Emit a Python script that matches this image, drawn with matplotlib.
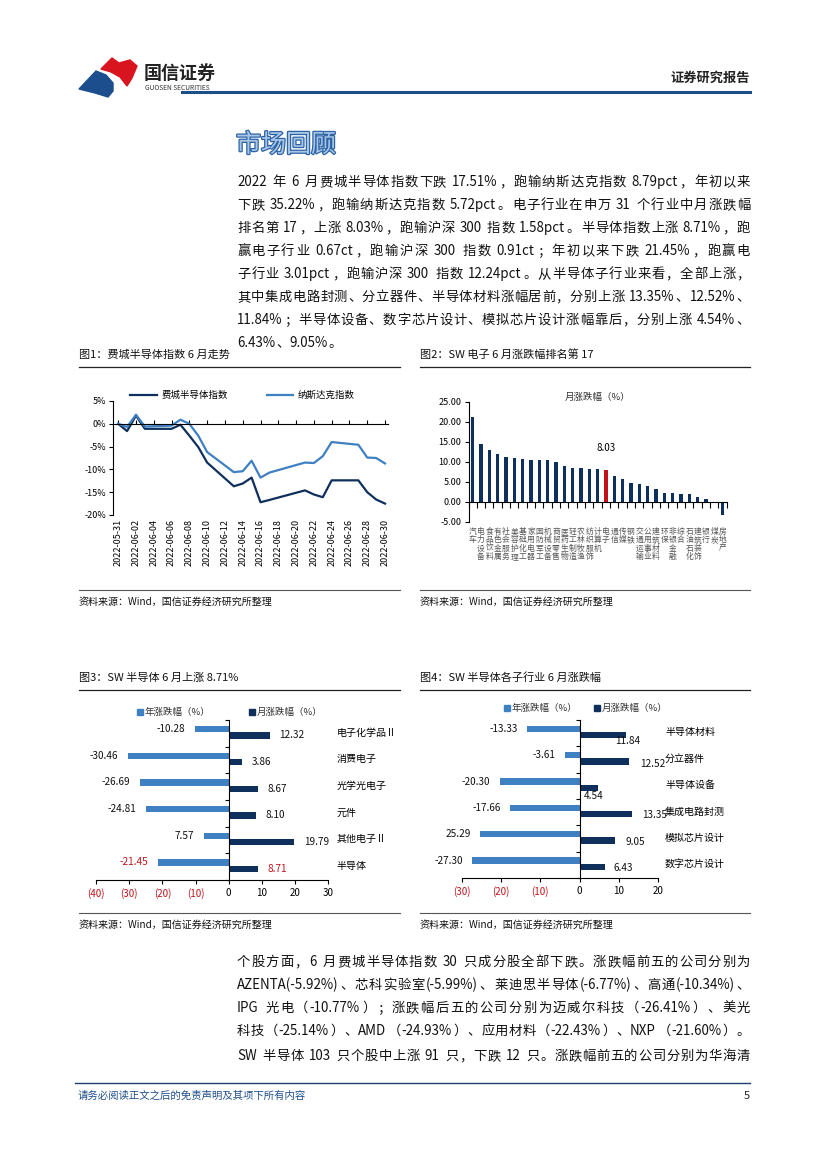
import re
import matplotlib
matplotlib.use('Agg')
import matplotlib.pyplot as plt
import matplotlib.dates as mdates
import matplotlib.patheffects as pe
from matplotlib.transforms import Affine2D, blended_transform_factory
from matplotlib.lines import Line2D
from matplotlib.patches import Polygon
from matplotlib.font_manager import FontProperties
import pandas as pd
import numpy as np

# -------------------------
# DATA
# -------------------------
# fig 1 : SOX vs Nasdaq, June 2022 (%)
dates1 = ['2022-05-31', '2022-06-01', '2022-06-02', '2022-06-03', '2022-06-06',
          '2022-06-07', '2022-06-08', '2022-06-09', '2022-06-10', '2022-06-13',
          '2022-06-14', '2022-06-15', '2022-06-16', '2022-06-17', '2022-06-21',
          '2022-06-22', '2022-06-23', '2022-06-24', '2022-06-27', '2022-06-28',
          '2022-06-29', '2022-06-30']
sox = [0, -1.6, 1.8, -1.1, -1.1, -0.2, -2.6, -5.1, -8.5, -13.7, -13.1, -11.8,
       -17.2, -16.7, -14.6, -15.5, -16.1, -12.4, -12.4, -15.0, -16.6, -17.5]
ndx = [0, -0.7, 2.0, -0.6, -0.4, 0.9, 0.0, -2.6, -6.2, -10.6, -10.4, -8.1,
       -11.8, -10.7, -8.5, -8.6, -7.1, -4.0, -4.6, -7.4, -7.5, -8.7]
tick_dates1 = ['2022-05-31', '2022-06-02', '2022-06-04', '2022-06-06', '2022-06-08',
               '2022-06-10', '2022-06-12', '2022-06-14', '2022-06-16', '2022-06-18',
               '2022-06-20', '2022-06-22', '2022-06-24', '2022-06-26', '2022-06-28',
               '2022-06-30']
yticks1 = [5, 0, -5, -10, -15, -20]
ylabels1 = ['5%', '0%', '-5%', '-10%', '-15%', '-20%']

# fig 2 : SW level-1 industries, June change (%)
ind_names = ['汽车', '电力设备', '食品饮料', '有色金属', '社会服务', '美容护理', '基础化工',
             '家用电器', '国防军工', '机械设备', '商贸零售', '医药生物', '轻工制造', '农林牧渔',
             '纺织服饰', '计算机', '电子', '通信', '传媒', '钢铁', '交通运输', '公用事业',
             '建筑材料', '环保', '非银金融', '综合', '石油石化', '建筑装饰', '银行', '煤炭',
             '房地产']
ind_chg = [21.2, 14.4, 12.9, 11.9, 11.2, 10.9, 10.7, 10.4, 10.4, 10.4, 9.9, 8.9,
           8.4, 8.4, 8.2, 8.2, 8.03, 6.4, 5.7, 4.6, 4.4, 3.9, 3.2, 2.3, 2.1, 1.9,
           1.9, 1.3, 0.7, 0.05, -3.3]
highlight = '电子'

# fig 3 : SW electronics level-2
cats3 = ['电子化学品Ⅱ', '消费电子', '光学光电子', '元件', '其他电子Ⅱ', '半导体']
year3 = [-10.28, -30.46, -26.69, -24.81, -7.57, -21.45]
month3 = [12.32, 3.86, 8.67, 8.10, 19.79, 8.71]
year3_lbl = ['-10.28', '-30.46', '-26.69', '-24.81', '7.57', '-21.45']
month3_lbl = ['12.32', '3.86', '8.67', '8.10', '19.79', '8.71']

# fig 4 : semiconductor sub-industries
cats4 = ['半导体材料', '分立器件', '半导体设备', '集成电路封测', '模拟芯片设计', '数字芯片设计']
year4 = [-13.33, -3.61, -20.30, -17.66, -25.29, -27.30]
month4 = [11.84, 12.52, 4.54, 13.35, 9.05, 6.43]
year4_lbl = ['-13.33', '-3.61', '-20.30', '-17.66', '25.29', '-27.30']
month4_lbl = ['11.84', '12.52', '4.54', '13.35', '9.05', '6.43']

para1 = [
    '2022 年 6 月费城半导体指数下跌 17.51%，跑输纳斯达克指数 8.79pct，年初以来',
    '下跌 35.22%，跑输纳斯达克指数 5.72pct。电子行业在申万 31 个行业中月涨跌幅',
    '排名第 17，上涨 8.03%，跑输沪深 300 指数 1.58pct。半导体指数上涨 8.71%，跑',
    '赢电子行业 0.67ct，跑输沪深 300 指数 0.91ct；年初以来下跌 21.45%，跑赢电',
    '子行业 3.01pct，跑输沪深 300 指数 12.24pct。从半导体子行业来看，全部上涨，',
    '其中集成电路封测、分立器件、半导体材料涨幅居前，分别上涨 13.35%、12.52%、',
    '11.84%；半导体设备、数字芯片设计、模拟芯片设计涨幅靠后，分别上涨 4.54%、',
    '6.43%、9.05%。',
]
para2 = [
    '个股方面，6 月费城半导体指数 30 只成分股全部下跌。涨跌幅前五的公司分别为',
    'AZENTA(-5.92%)、芯科实验室(-5.99%)、莱迪思半导体(-6.77%)、高通(-10.34%)、',
    'IPG 光电（-10.77%）；涨跌幅后五的公司分别为迈威尔科技（-26.41%）、美光',
    '科技（-25.14%）、AMD（-24.93%）、应用材料（-22.43%）、NXP（-21.60%）。',
]
para3 = ['SW 半导体 103 只个股中上涨 91 只，下跌 12 只。涨跌幅前五的公司分别为华海清']

# -------------------------
# STYLE
# -------------------------
FAM = ['Noto Sans CJK SC', 'DejaVu Sans']
plt.rcParams['font.family'] = FAM
plt.rcParams['axes.unicode_minus'] = False
DARK = '#0f305c'
LIGHT = '#3f80c2'
RED = '#c0121b'

W, H = 827, 1169
fig = plt.figure(figsize=(W / 100, H / 100), dpi=100)
PIX = Affine2D().scale(1 / W, -1 / H).translate(0, 1) + fig.transFigure
renderer = fig.canvas.get_renderer()


def txt(x, y, s, **kw):
    return fig.text(x, y, s, transform=PIX, **kw)


def hline(x0, x1, y, **kw):
    fig.add_artist(Line2D([x0, x1], [y, y], transform=PIX, **kw))


def axes_px(l, t, r, b):
    return fig.add_axes([l / W, 1 - b / H, (r - l) / W, (b - t) / H])


def justify(s, y, size=9.6, x0=237, x1=750, full=True):
    fp = FontProperties(family=FAM, size=size)
    em = size * 100 / 72
    toks = re.findall(r'[A-Za-z0-9.%+\-()]+| |.', s)
    widths = []
    for t in toks:
        if t == ' ':
            widths.append(em * 0.25)
        elif ord(t[0]) > 0x2E80:
            widths.append(em)
        else:
            w, _, _ = renderer.get_text_width_height_descent(t, fp, ismath=False)
            widths.append(w + 1)
    gap = ((x1 - x0) - sum(widths)) / (len(toks) - 1) if full else 0
    x = x0
    for t, w in zip(toks, widths):
        if t != ' ':
            txt(x, y, t, fontproperties=fp, va='center', ha='left', color='#111111')
        x += w + gap


# -------------------------
# HEADER
# -------------------------
fig.add_artist(Polygon([(101, 69), (112, 58), (119, 63), (130, 60), (137, 66),
                        (132, 78), (127, 86), (120, 77), (111, 72)],
                       closed=True, transform=PIX, color='#d8151f'))
fig.add_artist(Polygon([(79, 89), (96, 71), (106, 75), (113, 83), (113, 91),
                        (108, 97), (95, 93)],
                       closed=True, transform=PIX, color='#1c4e8e'))
txt(144, 73, '国信证券', fontsize=13, fontweight='bold', color='#222222', va='center')
txt(145, 88, 'GUOSEN SECURITIES', fontsize=4.8, color='#333333', va='center')
txt(750, 78, '证券研究报告', fontsize=9.5, fontweight='bold', color='#222222',
    va='center', ha='right')
hline(182, 750, 92, color='#1d4f86', lw=2.2)

txt(236, 145, '市场回顾', fontsize=18, color='#a9c6e6', va='center',
    path_effects=[pe.withStroke(linewidth=1.8, foreground='#2d64a6')])

for i, line in enumerate(para1):
    justify(line, 182 + i * 23, full=(i < len(para1) - 1))

# -------------------------
# CAPTIONS
# -------------------------
SRC = '资料来源：Wind，国信证券经济研究所整理'
for x0, x1, ty, sy, title in [
        (79, 400, 355, 602, '图1：费城半导体指数 6 月走势'),
        (420, 750, 355, 602, '图2：SW 电子 6 月涨跌幅排名第 17'),
        (79, 400, 678, 925, '图3：SW 半导体 6 月上涨 8.71%'),
        (420, 750, 678, 925, '图4：SW 半导体各子行业 6 月涨跌幅')]:
    txt(x0, ty, title, fontsize=8, va='center', color='#111111')
    hline(x0, x1, ty + 12, color='#222222', lw=0.9)
    hline(x0, x1, sy - 12, color='#555555', lw=0.8)
    txt(x0, sy, SRC, fontsize=7.2, va='center', color='#111111')

# -------------------------
# FIG 1  line chart
# -------------------------
d1 = pd.to_datetime(dates1)
ax1 = axes_px(113, 401, 388, 515)
ax1.plot(d1, sox, color=DARK, lw=1.6, label='费城半导体指数')
ax1.plot(d1, ndx, color=LIGHT, lw=1.6, label='纳斯达克指数')
ax1.set_xlim(d1[0] - pd.Timedelta(hours=14), d1[-1] + pd.Timedelta(hours=8))
ax1.set_ylim(-20, 5)
ax1.set_yticks(yticks1)
ax1.set_yticklabels(ylabels1)
ax1.tick_params(axis='y', direction='out', length=3, width=0.8, labelsize=6.5, pad=2)
ax1.spines['bottom'].set_position(('data', 0))
for s in ['top', 'right']:
    ax1.spines[s].set_visible(False)
td1 = pd.to_datetime(tick_dates1)
ax1.set_xticks(td1)
ax1.tick_params(axis='x', direction='in', length=3, width=0.8, labelbottom=False)
bt1 = blended_transform_factory(ax1.transData, PIX)
for d in td1:
    ax1.text(mdates.date2num(d), 519, d.strftime('%Y-%m-%d'), transform=bt1,
             rotation=90, ha='center', va='top', fontsize=6.5)
hx = [(130, 157, 162, '费城半导体指数', DARK), (267, 293, 298, '纳斯达克指数', LIGHT)]
for a, b, tx, lab, c in hx:
    hline(a, b, 395, color=c, lw=1.6)
    txt(tx, 395, lab, fontsize=6.8, va='center')

# -------------------------
# FIG 2  industry ranking
# -------------------------
ax2 = axes_px(468.5, 401.7, 726.8, 521.7)
xi = np.arange(len(ind_chg))
cols = [RED if n == highlight else DARK for n in ind_names]
ax2.bar(xi, ind_chg, width=0.42, color=cols)
ax2.set_xlim(-0.5, len(ind_chg) - 0.5)
ax2.set_ylim(-5, 25)
ax2.set_yticks([25, 20, 15, 10, 5, 0, -5])
ax2.set_yticklabels(['%.2f' % v for v in [25, 20, 15, 10, 5, 0, -5]])
ax2.tick_params(axis='y', direction='out', length=3, width=0.8, labelsize=6.5, pad=2)
ax2.spines['bottom'].set_position(('data', 0))
for s in ['top', 'right']:
    ax2.spines[s].set_visible(False)
ax2.set_xticks(np.arange(-0.5, len(ind_chg), 1))
ax2.tick_params(axis='x', direction='out', length=4, width=0.8, labelbottom=False)
hi = ind_names.index(highlight)
ax2.annotate('%.2f' % ind_chg[hi], (hi, ind_chg[hi]), xytext=(0, 12),
             textcoords='offset points', ha='center', va='bottom', fontsize=7)
ax2.text(0.5, 1.04, '月涨跌幅（%）', transform=ax2.transAxes, ha='center', va='center',
         fontsize=6.8, color='#333333')
bt2 = blended_transform_factory(ax2.transData, PIX)
for i, n in enumerate(ind_names):
    ax2.text(i, 528, '\n'.join(n), transform=bt2, ha='center', va='top',
             fontsize=5.6, color='#555555', linespacing=1.05)


# -------------------------
# FIG 3 / FIG 4  horizontal bars
# -------------------------
def hbars(box, cats, yr, mo, yr_lbl, mo_lbl, xlim, cat_x, leg, mo_off, red_row=None):
    ax = axes_px(*box)
    yi = np.arange(len(cats))
    ax.barh(yi - 0.16, yr, height=0.24, color=LIGHT)
    ax.barh(yi + 0.08, mo, height=0.24, color=DARK)
    ax.set_xlim(*xlim)
    ax.set_ylim(len(cats) - 0.5, -0.5)
    xt = list(range(xlim[0], xlim[1] + 1, 10))
    ax.set_xticks(xt)
    ax.set_xticklabels(['(%d)' % -v if v < 0 else '%d' % v for v in xt])
    for lab, v in zip(ax.get_xticklabels(), xt):
        if v < 0:
            lab.set_color(RED)
    ax.tick_params(axis='x', direction='out', length=3, width=0.8, labelsize=7, pad=3)
    ax.spines['left'].set_position(('data', 0))
    ax.set_yticks(np.arange(-0.5, len(cats), 1))
    ax.set_yticklabels([])
    ax.tick_params(axis='y', direction='out', length=3, width=0.8)
    for s in ['top', 'right']:
        ax.spines[s].set_visible(False)
    for i in yi:
        c = RED if i == red_row else '#111111'
        ax.annotate(yr_lbl[i], (yr[i], i - 0.16), xytext=(-7, 0), textcoords='offset points',
                    ha='right', va='center', fontsize=7.2, color=c)
        dx, dy = mo_off[i]
        ax.annotate(mo_lbl[i], (mo[i], i + 0.08), xytext=(dx * 0.72, -dy * 0.72),
                    textcoords='offset points', ha='left', va='center', fontsize=7.2, color=c)
    bt = blended_transform_factory(PIX, ax.transData)
    for i, n in enumerate(cats):
        ax.text(cat_x, i - 0.03, n, transform=bt, ha='left', va='center', fontsize=7.2)
    (sx1, tx1, sx2, tx2, ly) = leg
    for sx, tx, c, lab in [(sx1, tx1, LIGHT, '年涨跌幅（%）'), (sx2, tx2, DARK, '月涨跌幅（%）')]:
        fig.add_artist(Line2D([sx], [ly], transform=PIX, marker='s', markersize=5,
                              color=c, lw=0))
        txt(tx, ly, lab, fontsize=6.8, va='center', color='#333333')
    return ax


hbars((96, 720, 328.3, 880), cats3, year3, month3, year3_lbl, month3_lbl, (-40, 30),
      336.7, (140, 145, 252, 257, 712), [(10, 0)] * 6, red_row=5)
hbars((461.7, 720, 658.3, 878), cats4, year4, month4, year4_lbl, month4_lbl, (-30, 20),
      665, (507, 512, 597, 602, 708),
      [(-11, 6), (11, 2), (-14, 8), (10, 1), (10, 1), (9, 1)])

# -------------------------
# LOWER TEXT + FOOTER
# -------------------------
for i, line in enumerate(para2):
    justify(line, 962 + i * 23)
justify(para3[0], 1056)

hline(75, 750, 1083, color='#1d3f6e', lw=1.0)
txt(78, 1096, '请务必阅读正文之后的免责声明及其项下所有内容', fontsize=7.5, style='italic',
    color='#1f4e8c', va='center')
txt(750, 1096, '5', fontsize=8, va='center', ha='right', color='#222222')

fig.savefig('out.png', dpi=100)
